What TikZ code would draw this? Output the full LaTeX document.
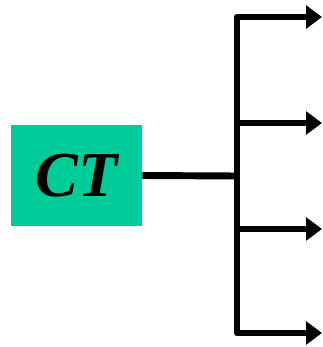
\documentclass[tikz,border=0pt]{standalone}
\usepackage{fontspec}
\setmainfont{Liberation Serif}
\usetikzlibrary{arrows.meta}
\definecolor{ctgreen}{RGB}{0,204,153}
\tikzset{
  ctbox/.style={fill=ctgreen, minimum width=98.25pt, minimum height=75.75pt, inner sep=0pt,
                font=\fontsize{48}{48}\selectfont\bfseries\itshape},
  busline/.style={line width=5.2pt, line join=round},
  tip/.style={-{Triangle[length=12pt, width=17pt]}}
}
\begin{document}
\begin{tikzpicture}[x=0.75pt, y=-0.75pt]
  \useasboundingbox (0,0) rectangle (323,347);
  \node[ctbox] (ct) at (76.5,175.5) {CT};
  % junction and outputs
  \coordinate (hub) at (237,176);
  \coordinate (c1) at (237,17);  \coordinate (e1) at (322,17);
  \coordinate (c2) at (237,123); \coordinate (e2) at (322,123);
  \coordinate (c3) at (237,229); \coordinate (e3) at (322,229);
  \coordinate (c4) at (237,333); \coordinate (e4) at (322,333);
  \draw[busline] (ct.east) -- (hub);
  \draw[busline, {Triangle[length=12pt, width=17pt]}-{Triangle[length=12pt, width=17pt]}]
        (e1) -- (c1) -- (c4) -- (e4);
  \draw[busline, tip] (c2) -- (e2);
  \draw[busline, tip] (c3) -- (e3);
\end{tikzpicture}
\end{document}
